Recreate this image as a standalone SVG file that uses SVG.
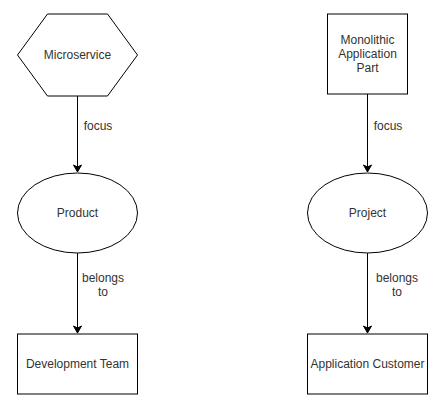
<svg xmlns="http://www.w3.org/2000/svg" width="442" height="411" viewBox="0 0 442 411">
<defs>
<marker id="arr" markerWidth="10" markerHeight="10" refX="8" refY="5" orient="auto" markerUnits="userSpaceOnUse">
<path d="M1,1 L8,5 L1,9 L3,5 Z" fill="#000" stroke="#000" stroke-width="1"/>
</marker>
</defs>
<style>
.s{fill:#fff;stroke:#000;stroke-width:1}
.t{font-family:"Liberation Sans",Arial,sans-serif;font-size:12px;fill:#333;text-anchor:middle;dominant-baseline:central}
.e{fill:none;stroke:#000;stroke-width:1;marker-end:url(#arr)}
</style>
<rect width="442" height="411" fill="#fff"/>
<g id="connectors">
<line class="e" x1="77.5" y1="95" x2="77.5" y2="172"/>
<line class="e" x1="77.5" y1="253" x2="77.5" y2="333"/>
<line class="e" x1="367.5" y1="94" x2="367.5" y2="172"/>
<line class="e" x1="367.5" y1="253" x2="367.5" y2="333"/>
<text class="t" x="98" y="126">focus</text>
<text class="t" x="103" y="278">belongs</text>
<text class="t" x="103" y="292">to</text>
<text class="t" x="388" y="126">focus</text>
<text class="t" x="397" y="278">belongs</text>
<text class="t" x="397" y="292">to</text>
</g>
<g id="microservice">
<polygon class="s" points="47.5,14 107.5,14 137.5,55 107.5,96 47.5,96 17.5,55"/>
<text class="t" x="77.5" y="55">Microservice</text>
</g>
<g id="product">
<ellipse class="s" cx="77.5" cy="213" rx="60" ry="40"/>
<text class="t" x="77.5" y="213">Product</text>
</g>
<g id="devteam">
<rect class="s" x="17.5" y="334" width="120" height="60"/>
<text class="t" x="77.5" y="364">Development Team</text>
</g>
<g id="monolithic">
<rect class="s" x="327.5" y="14" width="80" height="80"/>
<text class="t" x="367.5" y="40">Monolithic</text>
<text class="t" x="367.5" y="54">Application</text>
<text class="t" x="367.5" y="68">Part</text>
</g>
<g id="project">
<ellipse class="s" cx="367.5" cy="213" rx="60" ry="40"/>
<text class="t" x="367.5" y="213">Project</text>
</g>
<g id="appcustomer">
<rect class="s" x="307.5" y="334" width="120" height="60"/>
<text class="t" x="367.5" y="364">Application Customer</text>
</g>
</svg>
